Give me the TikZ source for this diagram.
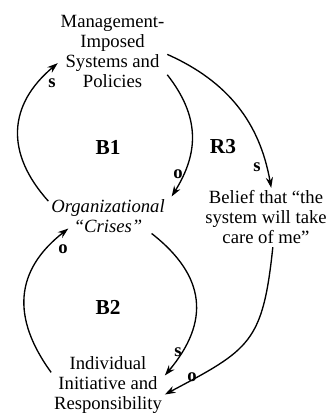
\documentclass[tikz,border=0pt]{standalone}
\usepackage{fontspec}
\setmainfont{Liberation Serif}
\usetikzlibrary{arrows.meta,calc}
\tikzset{
  vbl/.style={align=center,inner sep=2pt,font=\fontsize{14}{15}\selectfont},
  vblit/.style={vbl,font=\fontsize{14}{15}\selectfont\itshape},
  arr/.style={-{Stealth[length=2.8mm,width=1.9mm]},line width=1pt},
  pol/.style={font=\fontsize{14}{15}\selectfont\bfseries,inner sep=1pt},
  lp/.style={font=\fontsize{16}{16}\selectfont\bfseries,inner sep=1pt},
}
\begin{document}
\begin{tikzpicture}[x=0.75pt,y=-0.75pt]
\useasboundingbox (0,0) rectangle (328,415);

\node[vbl] (mgmt) at (112.5,51.5) {Management-\\Imposed\\Systems and\\Policies};
\node[vblit] (crises) at (108,216) {Organizational\\“Crises”};
\node[vbl] (belief) at (266,217.5) {Belief that “the\\system will take\\care of me”};
\node[vbl] (indiv) at (108,385.5) {Individual\\Initiative and\\Responsibility};

% loop names
\node[lp] (b1) at (108,147) {B1};
\node[lp] (r3) at (223,147) {R3};
\node[lp] (b2) at (108,307) {B2};

% links
\draw[arr] (crises.166) to[out=132,in=220,looseness=1.2] (mgmt.192);
\draw[arr] (mgmt.337) to[out=-52,in=58,looseness=1.1] ([xshift=3pt]crises.north east);
\draw[arr] (mgmt.357) to[out=-24,in=100] (belief.80);
\draw[arr] (indiv.167) to[out=126,in=218,looseness=1.2] ($(crises.south west)+(20,-7)$);
\draw[arr] ($(crises.south east)+(-16,-2)$) to[out=-38,in=50,looseness=1.25] (indiv.10);
\draw[arr] (belief.283) to[out=264,in=28,looseness=1.35] (indiv.351);

% polarities
\node[pol] (b1s) at (52,83) {s};
\node[pol] (b1o) at (178,174) {o};
\node[pol] (r3s) at (257,167) {s};
\node[pol] (b2o) at (63,249) {o};
\node[pol] (b2s) at (178,352) {s};
\node[pol] (r3o) at (192,377) {o};

\end{tikzpicture}
\end{document}
